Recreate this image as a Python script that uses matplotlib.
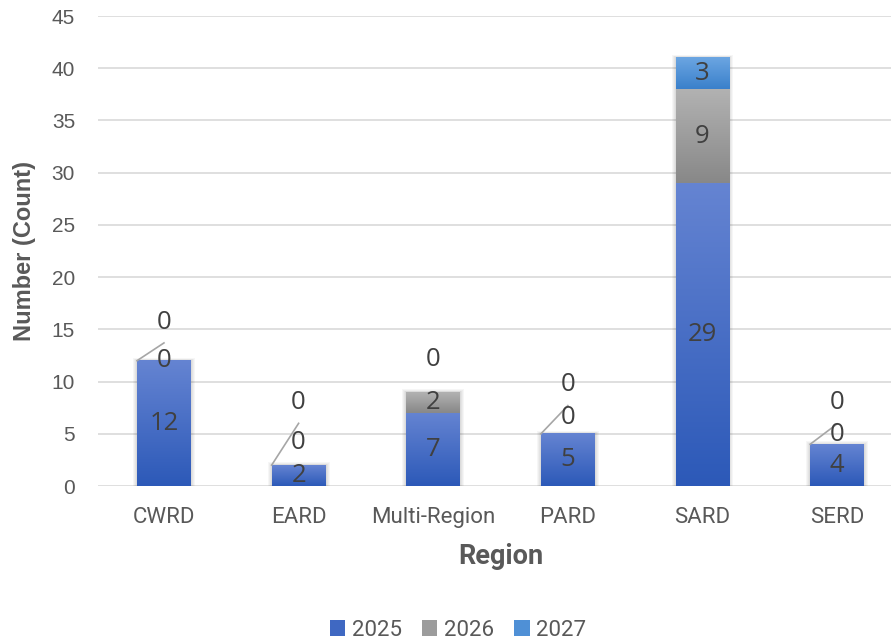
import numpy as np
import matplotlib
matplotlib.use("Agg")
import matplotlib.pyplot as plt
from matplotlib import font_manager
from matplotlib.colors import LinearSegmentedColormap
from matplotlib.patches import Patch, Rectangle

# ==============================
# DATA
# ==============================
regions = ["CWRD", "EARD", "Multi-Region", "PARD", "SARD", "SERD"]
years = ["2025", "2026", "2027"]
v2025 = [12, 2, 7, 5, 29, 4]
v2026 = [0, 0, 2, 0, 9, 0]
v2027 = [0, 0, 0, 0, 3, 0]
series = [v2025, v2026, v2027]

# gradient colours (top, bottom) per year
grad = {
    "2025": ("#6584D2", "#2C59B8"),
    "2026": ("#B2B2B2", "#888888"),
    "2027": ("#6CA6E2", "#3A80CB"),
}
legend_col = {"2025": "#3F68C2", "2026": "#9C9C9C", "2027": "#4F90D6"}

# Excel's placement of the zero labels (offsets above the bar top, in counts)
zero_mid_off = [0.0, 2.2, None, 1.6, None, 0.9]
zero_top_off = [3.7, 6.0, 3.1, 4.7, None, 3.95]

# ==============================
# FONTS
# ==============================
names = {f.name for f in font_manager.fontManager.ttflist}
narrow = "Liberation Sans Narrow" if "Liberation Sans Narrow" in names else "Roboto"
tick_font = "Liberation Sans"
lab_font = "Open Sans"
txt = "#595959"

# ==============================
# PLOT
# ==============================
fig = plt.figure(figsize=(8.91, 6.43), dpi=100)
ax = fig.add_axes([98 / 891, 1 - 486 / 643, 793 / 891, 470 / 643])

x = np.arange(len(regions))
width = 0.4
bottom = np.zeros(len(regions))
bars = []
for yr, vals in zip(years, series):
    b = ax.bar(x, vals, width, bottom=bottom, color="none", edgecolor="none", zorder=3)
    bars.append(b)
    bottom = bottom + np.array(vals)

# soft shadow behind each full stack
px_x = 1 / 134.6
px_y = 1 / 10.44
for i, tot in enumerate(bottom):
    x0 = bars[0][i].get_x()
    for k in range(1, 5):
        ax.add_patch(Rectangle((x0 - k * px_x, -k * px_y * 0.3), width + 2 * k * px_x, tot + k * px_y,
                               facecolor="black", alpha=0.035, linewidth=0, zorder=2))

# gradient fills
for yr, b in zip(years, bars):
    top_c, bot_c = grad[yr]
    cmap = LinearSegmentedColormap.from_list(yr, [bot_c, top_c])
    g = np.linspace(0, 1, 256).reshape(-1, 1)
    for p in b:
        h = p.get_height()
        if h <= 0:
            continue
        x0, y0 = p.get_x(), p.get_y()
        ax.imshow(g, cmap=cmap, extent=[x0, x0 + p.get_width(), y0, y0 + h],
                  origin="lower", aspect="auto", zorder=3, interpolation="bilinear")

# data labels
lab_kw = dict(ha="center", va="center", fontsize=18.5, color="#404040", family=lab_font, zorder=5)
for yr, b, vals in zip(years, bars, series):
    for i, p in enumerate(b):
        if vals[i] > 0:
            ax.text(p.get_x() + p.get_width() / 2, p.get_y() + vals[i] / 2, str(vals[i]), **lab_kw)

for i in range(len(regions)):
    cx = x[i]
    top = bottom[i]
    if v2026[i] == 0 and zero_mid_off[i] is not None:
        ax.text(cx, top + zero_mid_off[i], "0", **lab_kw)
    if v2027[i] == 0 and zero_top_off[i] is not None:
        ty = top + zero_top_off[i]
        ax.text(cx, ty, "0", **lab_kw)
        if zero_mid_off[i] is not None:
            # leader line from bar corner toward the upper label
            ax.plot([bars[0][i].get_x(), cx], [top, ty - 2.0], color="#A6A6A6", lw=1.2, zorder=4)

# axes styling
ax.set_xlim(-0.49, 5.40)
ax.set_ylim(0, 45)
ax.set_yticks(range(0, 46, 5))
ax.yaxis.grid(True, color="#D9D9D9", lw=1.2, zorder=0)
ax.set_axisbelow(True)
for s in ax.spines.values():
    s.set_visible(False)
ax.tick_params(axis="y", length=0, pad=16.5, labelsize=15, labelcolor=txt)
ax.tick_params(axis="x", length=0, pad=15, labelsize=16, labelcolor=txt)
for t in ax.get_yticklabels():
    t.set_family(tick_font)
ax.set_xticks(x)
ax.set_xticklabels(regions, family=narrow)

ax.set_ylabel("Number (Count)", fontsize=17, fontweight="bold", color=txt, family=tick_font, va="center")
ax.yaxis.set_label_coords((25 - 98) / 793, 0.5)
ax.set_xlabel("Region", fontsize=19.5, fontweight="bold", color=txt, family=narrow, va="center")
ax.xaxis.set_label_coords((501 - 98) / 793, (486 - 557) / 470)

handles = [Patch(facecolor=legend_col[yr], edgecolor="none", label=yr) for yr in years]
fig.legend(handles=handles, loc="center", bbox_to_anchor=(458 / 891, 1 - 630 / 643), ncol=3,
           frameon=False, handlelength=0.7, handleheight=0.7, handletextpad=0.3,
           columnspacing=0.9, prop={"family": narrow, "size": 16}, labelcolor=txt)

fig.savefig("out.png", dpi=100)
